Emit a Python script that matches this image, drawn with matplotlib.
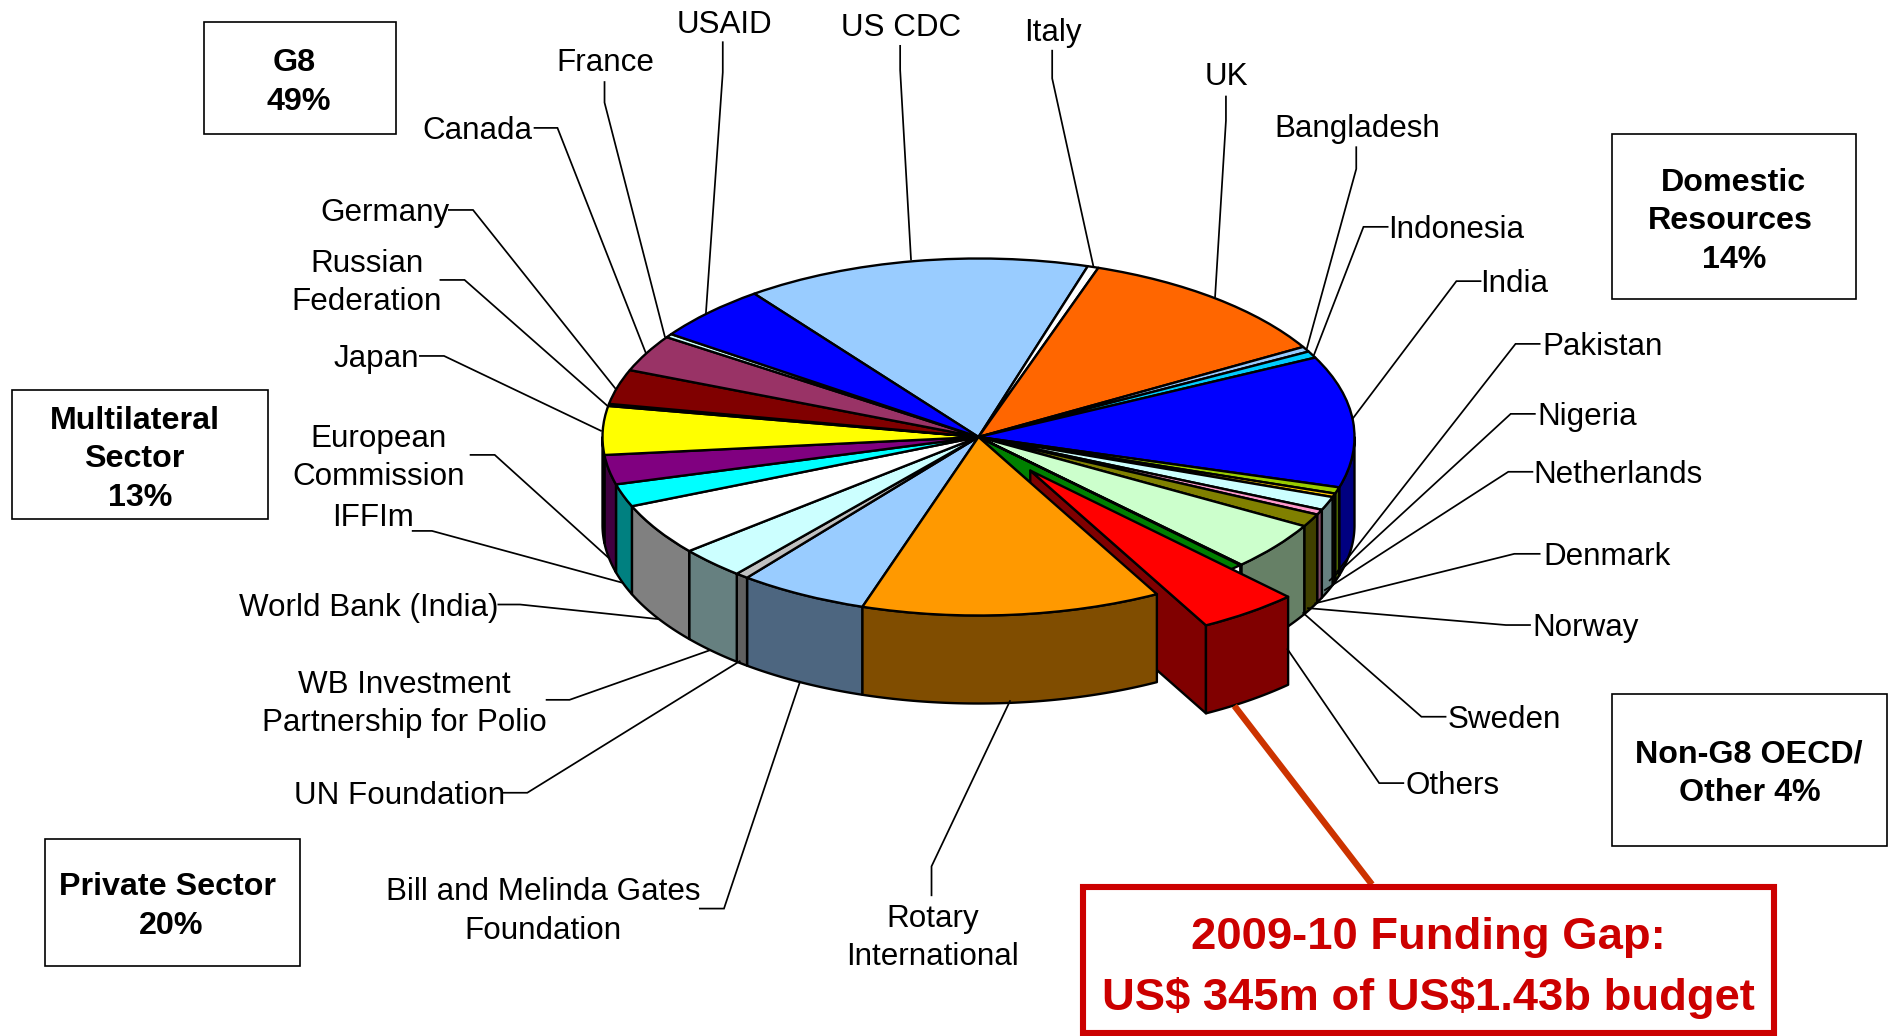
#!/usr/bin/env python
"""Polio funding pie drawn as a tilted 3D pie with leader lines"""

import matplotlib
matplotlib.use("Agg")
import matplotlib.pyplot as plt
from matplotlib.patches import Polygon, Rectangle, Wedge
import numpy as np

plt.rcParams['font.family'] = ['Liberation Sans', 'DejaVu Sans']

# clockwise, starting at the top of the pie. Shares in %
slice_names = ["US CDC", "Italy", "UK", "Bangladesh", "Indonesia", "India",
               "Pakistan", "Nigeria", "Netherlands", "Denmark", "Norway",
               "Sweden", "Others", "Funding Gap", "Rotary International",
               "Bill and Melinda Gates Foundation", "UN Foundation",
               "WB Investment Partnership for Polio", "World Bank (India)",
               "IFFIm", "European Commission", "Japan", "Russian Federation",
               "Germany", "Canada", "France", "USAID"]
slice_shares = [14.86, 0.47, 11.42, 0.47, 0.61, 11.89,
                0.58, 0.33, 1.22, 0.47, 1.17,
                4.36, 0.06, 4.39, 12.86,
                5.56, 0.56,
                2.86, 4.69,
                2.06, 2.67, 4.39, 0.19,
                3.14, 3.33, 0.33, 5.06]
slice_colors = ["#99CCFF", "#FFFFFF", "#FF6600", "#99CCFF", "#00CCFF", "#0000FF",
                "#99CC00", "#FFCC00", "#CCFFFF", "#FF99CC", "#808000",
                "#CCFFCC", "#008000", "#FF0000", "#FF9900",
                "#99CCFF", "#C0C0C0",
                "#CCFFFF", "#FFFFFF",
                "#00FFFF", "#800080", "#FFFF00", "#000080",
                "#800000", "#993366", "#CCFFFF", "#0000FF"]

# group boxes: text lines
group_lines = [["G8", "49%"],
               ["Domestic", "Resources", "14%"],
               ["Multilateral", "Sector", "13%"],
               ["Private Sector", "20%"],
               ["Non-G8 OECD/", "Other 4%"]]
gap_lines = [r"2009-10 Funding Gap:", r"US\$ 345m of US\$1.43b budget"]

# layout below is in the coordinates of the overlay axes
W, H = 1568.0, 858.6
LINE_GAP = 32
TEXT_DY = 2.5

# (lines, x of centre, y of first line)
label_pos = [(["USAID"], 600, 18), (["France"], 502, 50), (["US CDC"], 747, 21),
             (["Italy"], 873, 25), (["UK"], 1016, 61), (["Bangladesh"], 1125, 104),
             (["Indonesia"], 1207, 188), (["India"], 1255, 233),
             (["Pakistan"], 1328, 285), (["Nigeria"], 1315, 343),
             (["Netherlands"], 1341, 391), (["Denmark"], 1332, 459),
             (["Norway"], 1314, 518), (["Sweden"], 1247, 594),
             (["Others"], 1204, 649), (["Canada"], 396, 106),
             (["Germany"], 319, 174), (["Russian", "Federation"], 304, 216),
             (["Japan"], 312, 295), (["European", "Commission"], 314, 361),
             (["IFFIm"], 309, 427), (["World Bank (India)"], 306, 501),
             (["WB Investment", "Partnership for Polio"], 335, 565),
             (["UN Foundation"], 331, 657),
             (["Bill and Melinda Gates", "Foundation"], 450, 737),
             (["Rotary", "International"], 773, 759)]

leaders = [[(599, 35), (599, 60), (585, 260)],
           [(501, 68), (501, 85), (551, 279)],
           [(443, 106), (462, 106), (535, 292)],
           [(372, 174), (392, 174), (510, 322)],
           [(365, 232), (385, 232), (503, 336)],
           [(348, 295), (368, 295), (498, 357)],
           [(390, 377), (410, 377), (504, 462)],
           [(342, 440), (358, 440), (516, 483)],
           [(413, 501), (431, 501), (545, 513)],
           [(453, 580), (472, 580), (588, 539)],
           [(417, 657), (437, 657), (613, 548)],
           [(580, 753), (600, 753), (663, 565)],
           [(772, 742), (772, 718), (837, 581)],
           [(746, 38), (746, 58), (755, 215)],
           [(872, 42), (872, 65), (906, 220)],
           [(1016, 80), (1016, 100), (1007, 246)],
           [(1124, 122), (1124, 140), (1083, 289)],
           [(1150, 188), (1130, 188), (1089, 294)],
           [(1227, 233), (1207, 233), (1121, 347)],
           [(1276, 285), (1256, 285), (1108, 474)],
           [(1272, 343), (1252, 343), (1102, 481)],
           [(1270, 391), (1250, 391), (1098, 489)],
           [(1276, 459), (1255, 459), (1090, 500)],
           [(1268, 518), (1248, 518), (1084, 504)],
           [(1198, 594), (1178, 594), (1080, 508)],
           [(1163, 649), (1143, 649), (1067, 538)]]

# (left, top, right, bottom), then x of each text line and y of the first one
group_boxes = [((169, 18, 328, 111), (244, 248), 50),
               ((1336, 111, 1538, 248), (1437, 1434, 1437), 149),
               ((10, 323, 222, 430), (112, 111, 116), 346),
               ((37, 695, 249, 801), (139, 142), 733),
               ((1336, 575, 1564, 701), (1449, 1450), 623)]

fig = plt.figure(figsize=(18.92, 10.36), dpi=100)

# the unit circle of this axes lands on the tilted ellipse of the top face
CX, CY, RX, RY = 978.5, 437.0, 376.0, 178.5
pie_ax = fig.add_axes([(CX - RX) / 1892, 1 - (CY + RY) / 1036,
                       2 * RX / 1892, 2 * RY / 1036])
DEPTH = 88.0 / RY
EDGE = dict(edgecolor="black", linewidth=1.7, joinstyle="round")

gap_idx = slice_names.index("Funding Gap")
rotary_idx = slice_names.index("Rotary International")
others_idx = slice_names.index("Others")
explode = np.zeros(len(slice_shares))
explode[gap_idx] = 0.233

wedges, _ = pie_ax.pie(slice_shares, colors=slice_colors, explode=explode,
                       startangle=126.6, counterclock=False, radius=1.0,
                       wedgeprops=EDGE)
pie_ax.set_aspect("auto")
pie_ax.set_xlim(-1, 1)
pie_ax.set_ylim(-1, 1)
pie_ax.axis("off")


def darker(color):
    """Side walls are the slice colour at half brightness"""
    return tuple(0.5 * c for c in matplotlib.colors.to_rgb(color))


def rim_wall(wedge, color, zorder):
    """Outer wall of a slice, only the part on the front of the pie"""
    lo = max(wedge.theta1, -180)
    hi = min(wedge.theta2, 0)
    if lo >= hi:
        return
    th = np.radians(np.linspace(lo, hi, 60))
    x = wedge.center[0] + wedge.r * np.cos(th)
    y = wedge.center[1] + wedge.r * np.sin(th)
    pts = np.r_[np.c_[x, y], np.c_[x, y - DEPTH][::-1]]
    pie_ax.add_patch(Polygon(pts, closed=True, facecolor=darker(color),
                             clip_on=False, zorder=zorder, **EDGE))


for i, w in enumerate(wedges):
    w.set_clip_on(False)
    w.set_zorder(3)
    if i not in (gap_idx, rotary_idx):
        rim_wall(w, slice_colors[i], 2)

# exploded gap slice goes over its neighbours, Rotary then goes over the gap
gap = wedges[gap_idx]
gap.set_radius(0.985)
gap.set_zorder(5)

# the hole the gap slice leaves behind shows the Others colour
pie_ax.add_patch(Wedge((0, 0), 1.0, gap.theta1, wedges[others_idx].theta2,
                       facecolor=slice_colors[others_idx], clip_on=False,
                       zorder=2.5, **EDGE))

th = np.radians(gap.theta1)
ax0, ay0 = gap.center
ex, ey = ax0 + gap.r * np.cos(th), ay0 + gap.r * np.sin(th)
pie_ax.add_patch(Polygon([(ax0, ay0), (ex, ey), (ex, ey - DEPTH), (ax0, ay0 - DEPTH)],
                         closed=True, facecolor=darker(slice_colors[gap_idx]),
                         clip_on=False, zorder=4, **EDGE))
rim_wall(gap, slice_colors[gap_idx], 4)
rim_wall(wedges[rotary_idx], slice_colors[rotary_idx], 6)
wedges[rotary_idx].set_zorder(7)

# overlay for the text, boxes and leader lines
ov = fig.add_axes([0, 0, 1, 1], zorder=5)
ov.set_xlim(0, W)
ov.set_ylim(H, 0)
ov.axis("off")


def stacked_text(lines, x, y, **kwargs):
    xs = x if isinstance(x, tuple) else [x] * len(lines)
    for n, line in enumerate(lines):
        ov.text(xs[n], y + TEXT_DY + n * LINE_GAP, line, ha="center", va="center",
                **kwargs)


for path in leaders:
    xs, ys = zip(*path)
    ov.plot(xs, ys, color="black", lw=1.25, solid_joinstyle="miter")

for lines, x, y in label_pos:
    stacked_text(lines, x, y, fontsize=22.6, color="black")

for lines, (box, x, y) in zip(group_lines, group_boxes):
    l, t, r, b = box
    ov.add_patch(Rectangle((l, t), r - l, b - t, facecolor="white",
                           edgecolor="black", linewidth=1.2))
    stacked_text(lines, x, y, fontsize=23.2, fontweight="bold", color="black")

# funding gap callout
ov.plot([1023, 1137], [585, 733], color="#CC3300", lw=4.6, solid_capstyle="butt",
        zorder=1)
ov.add_patch(Rectangle((897.5, 735), 573, 121, facecolor="white",
                       edgecolor="#CC0000", linewidth=4.4))
ov.text(1184, 777, gap_lines[0], ha="center", va="center", fontsize=32.7,
        fontweight="bold", color="#CC0000")
ov.text(1184, 827, gap_lines[1], ha="center", va="center", fontsize=32.7,
        fontweight="bold", color="#CC0000")

fig.savefig("out.png", dpi=100)
